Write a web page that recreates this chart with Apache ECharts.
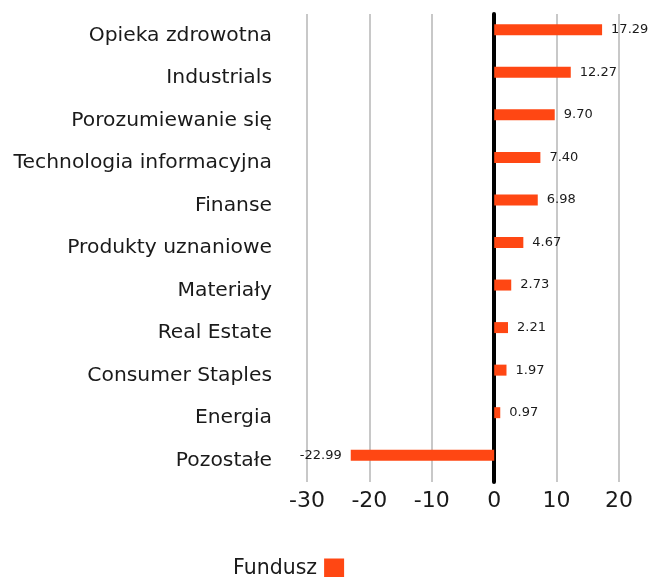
<!DOCTYPE html>
<html><head><meta charset="utf-8">
<script src="https://cdn.jsdelivr.net/npm/echarts@6/dist/echarts.min.js"></script>
<style>html,body{margin:0;padding:0;background:#fff}#c{width:652px;height:577px}</style>
</head><body><div id="c"></div>
<script>
const categories = ["Opieka zdrowotna","Industrials","Porozumiewanie się","Technologia informacyjna","Finanse","Produkty uznaniowe","Materiały","Real Estate","Consumer Staples","Energia","Pozostałe"];
const values = [17.29,12.27,9.70,7.40,6.98,4.67,2.73,2.21,1.97,0.97,-22.99];
const xTicks = [-30,-20,-10,0,10,20];
const seriesName = "Fundusz";
const FONT = "DejaVu Sans";
const chart = echarts.init(document.getElementById('c'));
chart.setOption({
  animation:false,
  grid:{left:307,right:33,top:14,height:468,containLabel:false},
  legend:{data:[seriesName],left:228,top:553,align:'right',itemWidth:20,itemHeight:20,itemGap:8,
    textStyle:{fontFamily:FONT,fontSize:20.5,color:'#1a1a1a',padding:[0,2,0,0]},icon:'rect'},
  xAxis:{type:'value',min:xTicks[0],max:xTicks[xTicks.length-1],interval:10,
    axisLine:{show:false},axisTick:{show:false},
    splitLine:{lineStyle:{color:'#c8c8c8',width:2}},
    axisLabel:{fontFamily:FONT,fontSize:22,color:'#1a1a1a',margin:8}},
  yAxis:{type:'category',data:categories,inverse:true,
    axisLine:{show:true,onZero:true,lineStyle:{color:'#000',width:4}},
    axisTick:{show:false},
    axisLabel:{fontFamily:FONT,fontSize:20.3,color:'#1a1a1a',margin:35,padding:[7,0,0,0]}},
  series:[{name:seriesName,type:'bar',barWidth:11,barGap:'0%',
    data:values.map(v=>v<0?{value:v,label:{position:'left',distance:9}}:v),
    itemStyle:{color:'#FF4713'},
    label:{show:true,position:'right',distance:9,fontFamily:FONT,fontSize:13,color:'#1a1a1a',
      formatter:p=>p.value.toFixed(2)}
  },{name:'_pad',type:'bar',barWidth:11,data:values.map(()=>null),silent:true,itemStyle:{color:'transparent'}}]
});
</script></body></html>
